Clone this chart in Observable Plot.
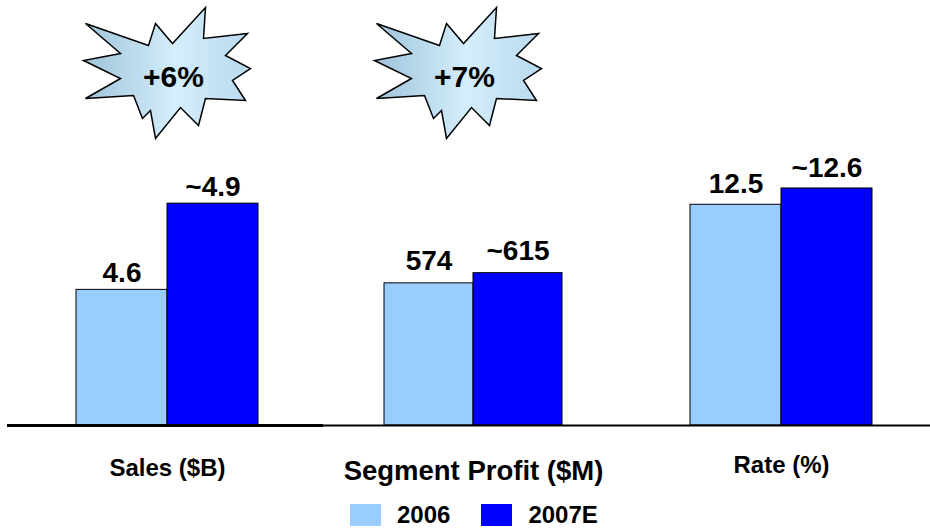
<!DOCTYPE html>
<html>
<head>
<meta charset="utf-8">
<script src="https://cdn.jsdelivr.net/npm/d3@7"></script>
<script src="https://cdn.jsdelivr.net/npm/@observablehq/plot@0.6"></script>
<style>
  body { margin: 0; background: #fff; font-family: "Liberation Sans", Arial, sans-serif; }
  #chart { position: relative; width: 930px; height: 528px; overflow: hidden; background: #fff; }
  #chart .panel { position: absolute; top: 0; }
  #chart svg { overflow: visible; }
  .legend { position: absolute; top: 504px; left: 350px; display: flex; align-items: center;
            font-weight: bold; font-size: 24px; line-height: 22px; color: #000; }
  .legend .sw { width: 31px; height: 22px; display: inline-block; }
</style>
</head>
<body>
<svg width="0" height="0" style="position:absolute">
  <defs>
    <linearGradient id="starGrad" x1="0" y1="0" x2="1" y2="0">
      <stop offset="0" stop-color="#9fc3da"/>
      <stop offset="0.55" stop-color="#d4eefc"/>
      <stop offset="1" stop-color="#b9d9ee"/>
    </linearGradient>
  </defs>
</svg>
<div id="chart"></div>
<script>
// ---- data ----
const groups = ["Sales ($B)", "Segment Profit ($M)", "Rate (%)"];
const years = ["2006", "2007E"];
const values2006 = [4.6, 574, 12.5];
const values2007 = [4.9, 615, 12.6];
const labels2006 = ["4.6", "574", "12.5"];
const labels2007 = ["~4.9", "~615", "~12.6"];
const growthLabels = ["+6%", "+7%", null];
const yDomains = [[4.128, 5.607], [0, 1716], [11.146, 13.753]];
const colors = ["#99CCFF", "#0000FF"];

// ---- layout (per panel) ----
const layout = [
  {left: 7,   width: 316, ml: 4, mr: 0, bar: 91,   rule: 3, labelSize: 24,   labelDy: 43, valueDy: -8,    starDx: 6},
  {left: 323, width: 300, ml: 0, mr: 0, bar: 89,   rule: 2, labelSize: 27.5, labelDy: 46, valueDy: -13.5, starDx: -9},
  {left: 623, width: 307, ml: 9, mr: 0, bar: 91.5, rule: 2, labelSize: 24,   labelDy: 40, valueDy: -11.5, starDx: 0}
];

const starPts = [[-88,-54],[-25,-32],[-18,-54],[-1,-34],[32,-70],[30,-39],[74,-44],[52,-22],
  [77,-9],[59,3],[72,23],[32,21],[25,48],[7,30],[-18,61],[-23,33],[-31,41],[-40,18],
  [-88,21],[-53,1],[-90,-17],[-53,-24]];
const starSymbol = {
  draw(ctx) {
    ctx.moveTo(starPts[0][0], starPts[0][1]);
    for (let i = 1; i < starPts.length; i++) ctx.lineTo(starPts[i][0], starPts[i][1]);
    ctx.closePath();
  }
};

const chart = document.getElementById("chart");
const FONT = "Liberation Sans, Arial, sans-serif";

groups.forEach((g, i) => {
  const L = layout[i];
  const data = [
    {year: years[0], value: values2006[i], label: labels2006[i]},
    {year: years[1], value: values2007[i], label: labels2007[i]}
  ];
  const frameW = L.width - L.ml - L.mr;
  const padOuter = (frameW / L.bar - 2) / 2;
  const lo = yDomains[i][0];
  const marks = [
    Plot.barY(data, {x: "year", y1: lo, y2: "value", fill: (d) => colors[years.indexOf(d.year)],
      stroke: "#000", strokeWidth: 1}),
    Plot.ruleY([lo], {stroke: "#000", strokeWidth: L.rule, insetLeft: -L.ml}),
    Plot.text(data, {x: "year", y: "value", text: "label", lineAnchor: "bottom", dy: L.valueDy,
      fontSize: 28, fontWeight: "bold", fill: "#000", fontFamily: FONT}),
    Plot.text([g], {frameAnchor: "bottom", text: (d) => d, dy: L.labelDy, lineAnchor: "middle",
      fontSize: L.labelSize, fontWeight: "bold", fill: "#000", fontFamily: FONT})
  ];
  if (growthLabels[i]) {
    marks.push(
      Plot.dot([growthLabels[i]], {frameAnchor: "top", dx: L.starDx, dy: 77, r: 10, symbol: starSymbol,
        fill: "url(#starGrad)", stroke: "#000", strokeWidth: 1.5}),
      Plot.text([growthLabels[i]], {frameAnchor: "top", dx: L.starDx, dy: 77, text: (d) => d,
        lineAnchor: "middle", fontSize: 30, fontWeight: "bold", fill: "#000", fontFamily: FONT})
    );
  }
  const svg = Plot.plot({
    width: L.width,
    height: 490,
    marginTop: 0,
    marginBottom: 65,
    marginLeft: L.ml,
    marginRight: L.mr,
    style: {background: "transparent", overflow: "visible", fontFamily: FONT},
    x: {type: "band", domain: years, paddingInner: 0, paddingOuter: padOuter, axis: null},
    y: {domain: yDomains[i], axis: null},
    marks
  });
  const wrap = document.createElement("div");
  wrap.className = "panel";
  wrap.style.left = L.left + "px";
  wrap.appendChild(svg);
  chart.appendChild(wrap);
});

// legend
const legend = document.createElement("div");
legend.className = "legend";
legend.innerHTML =
  `<span class="sw" style="background:${colors[0]}"></span><span style="margin-left:16px;margin-right:31px">${years[0]}</span>` +
  `<span class="sw" style="background:${colors[1]}"></span><span style="margin-left:16px">${years[1]}</span>`;
chart.appendChild(legend);
</script>
</body>
</html>
